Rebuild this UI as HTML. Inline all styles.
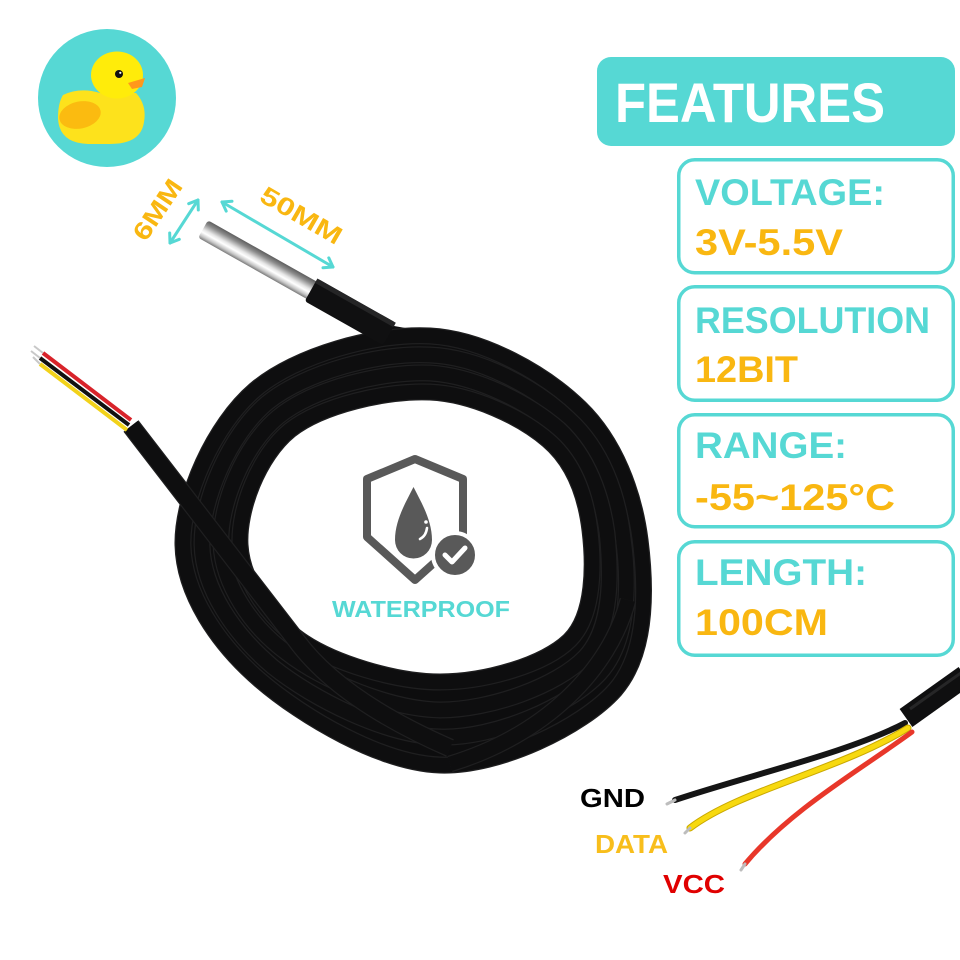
<!DOCTYPE html>
<html>
<head>
<meta charset="utf-8">
<style>
  html,body{margin:0;padding:0;background:#fff;}
  svg{display:block;}
  text{font-family:"Liberation Sans",Arial,sans-serif;font-weight:bold;}
</style>
</head>
<body>
<svg width="960" height="960" viewBox="0 0 960 960" xmlns="http://www.w3.org/2000/svg">
  <defs>
    <linearGradient id="tube" x1="0" y1="0" x2="0" y2="1">
      <stop offset="0" stop-color="#5e5e5e"/>
      <stop offset="0.22" stop-color="#8c8c8c"/>
      <stop offset="0.5" stop-color="#e6e6e6"/>
      <stop offset="0.65" stop-color="#ffffff"/>
      <stop offset="0.85" stop-color="#c4c4c4"/>
      <stop offset="1" stop-color="#7a7a7a"/>
    </linearGradient>
  </defs>
  <rect width="960" height="960" fill="#ffffff"/>

  <!-- Duck logo -->
  <circle cx="107" cy="98" r="69" fill="#56d8d4"/>
  <path d="M63,95 Q80,87 100,93 L136,93 Q147,105 144,122 Q141,144 110,144 L88,144 Q59,143 58,118 Q58,103 63,95 Z" fill="#fde21c"/>
  <ellipse cx="117" cy="75" rx="26" ry="23.5" fill="#ffec0a"/>
  <ellipse cx="80" cy="115" rx="21" ry="13.5" fill="#fbbb10" transform="rotate(-12 80 115)"/>
  <polygon points="128,83 145,78 142,87 132,89" fill="#ff981c"/>
  <circle cx="119" cy="74" r="4" fill="#111"/>
  <circle cx="120.3" cy="72.8" r="1.1" fill="#fff"/>

  <!-- Dimension arrows -->
  <g stroke="#56d8d4" stroke-width="3" fill="none" stroke-linecap="round" stroke-linejoin="round">
    <line x1="170" y1="243" x2="198" y2="200"/>
    <polyline points="188.7,203.7 198,200 198.3,210"/>
    <polyline points="179.3,239.3 170,243 169.7,233"/>
    <line x1="222" y1="202" x2="333" y2="267"/>
    <polyline points="328.8,257.9 333,267 323,267.8"/>
    <polyline points="226.2,211.1 222,202 232,201.2"/>
  </g>
  <text x="158" y="210" transform="rotate(-56 158 210)" text-anchor="middle" dominant-baseline="central" font-size="25" fill="#f9b711" textLength="68" lengthAdjust="spacingAndGlyphs">6MM</text>
  <text x="301" y="216" transform="rotate(30 301 216)" text-anchor="middle" dominant-baseline="central" font-size="25" fill="#f9b711" textLength="90" lengthAdjust="spacingAndGlyphs">50MM</text>

  <!-- probe cable into coil -->
  <path d="M380,331 C400,336 415,338 432,339" stroke="#0e0e0f" stroke-width="16" fill="none" stroke-linecap="butt"/>

  <!-- Coil base fill -->
  <path fill="#0d0d0e" fill-rule="evenodd" d="M430,336 C484,339 545,374 580,408 C615,442 634,493 640,540 C646,587 648,652 615,690 C582,727 499,767 440,765 C381,763 303,717 260,680 C217,643 184,593 183,545 C182,497 214,425 255,390 C296,355 376,333 430,336 Z M430,392 C473,394 521,417 548,440 C575,463 586,497 590,530 C594,563 595,615 570,640 C545,665 485,682 440,682 C395,682 333,663 300,640 C267,617 242,580 240,545 C238,510 258,456 290,430 C322,405 387,390 430,392 Z"/>

  <!-- Strands -->
  <g fill="none">
    <path stroke="#1f1f20" stroke-width="17" d="M430,336 C484,339 545,374 580,408 C615,442 634,493 640,540 C646,587 648,652 615,690 C582,727 499,767 440,765 C381,763 303,717 260,680 C217,643 184,593 183,545 C182,497 214,425 255,390 C296,355 376,333 430,336 Z"/>
    <path stroke="#0e0e0f" stroke-width="14.5" d="M430,336 C484,339 545,374 580,408 C615,442 634,493 640,540 C646,587 648,652 615,690 C582,727 499,767 440,765 C381,763 303,717 260,680 C217,643 184,593 183,545 C182,497 214,425 255,390 C296,355 376,333 430,336 Z"/>

    <path stroke="#1f1f20" stroke-width="17" d="M430,355 C480,357 537,388 569,419 C602,449 618,494 623,537 C629,579 630,640 600,673 C570,706 494,739 440,737 C386,736 313,699 273,667 C234,634 203,589 202,545 C201,501 229,435 267,403 C305,372 380,352 430,355 Z"/>
    <path stroke="#0e0e0f" stroke-width="14.5" d="M430,355 C480,357 537,388 569,419 C602,449 618,494 623,537 C629,579 630,640 600,673 C570,706 494,739 440,737 C386,736 313,699 273,667 C234,634 203,589 202,545 C201,501 229,435 267,403 C305,372 380,352 430,355 Z"/>

    <path stroke="#1f1f20" stroke-width="17" d="M430,373 C477,376 529,403 559,429 C588,456 602,496 607,533 C611,571 613,627 585,657 C557,686 490,710 440,710 C390,709 323,681 287,653 C250,626 223,584 221,545 C219,506 243,446 278,417 C313,388 383,371 430,373 Z"/>
    <path stroke="#0e0e0f" stroke-width="14.5" d="M430,373 C477,376 529,403 559,429 C588,456 602,496 607,533 C611,571 613,627 585,657 C557,686 490,710 440,710 C390,709 323,681 287,653 C250,626 223,584 221,545 C219,506 243,446 278,417 C313,388 383,371 430,373 Z"/>

    <path stroke="#1f1f20" stroke-width="17" d="M430,392 C473,394 521,417 548,440 C575,463 586,497 590,530 C594,563 595,615 570,640 C545,665 485,682 440,682 C395,682 333,663 300,640 C267,617 242,580 240,545 C238,510 258,456 290,430 C322,405 387,390 430,392 Z"/>
    <path stroke="#0e0e0f" stroke-width="14.5" d="M430,392 C473,394 521,417 548,440 C575,463 586,497 590,530 C594,563 595,615 570,640 C545,665 485,682 440,682 C395,682 333,663 300,640 C267,617 242,580 240,545 C238,510 258,456 290,430 C322,405 387,390 430,392 Z"/>

    <!-- bottom-right crossing strand -->
    <path stroke="#1f1f20" stroke-width="17" d="M628,600 C610,670 545,735 450,764"/>
    <path stroke="#0e0e0f" stroke-width="14.5" d="M628,600 C610,670 545,735 450,764"/>

    <!-- left jacket diagonal -->
    <path stroke="#1f1f20" stroke-width="19" d="M131,426 L296,640 Q340,700 450,748"/>
    <path stroke="#0e0e0f" stroke-width="16.5" d="M131,426 L296,640 Q340,700 450,748"/>
  </g>

  <!-- left wire ends -->
  <g stroke-linecap="butt" fill="none">
    <line x1="43" y1="353" x2="131" y2="420" stroke="#d8232a" stroke-width="4"/>
    <line x1="40" y1="358" x2="129" y2="425" stroke="#111" stroke-width="4"/>
    <line x1="40" y1="364" x2="127" y2="430" stroke="#f2d21a" stroke-width="4"/>
    <line x1="34" y1="346" x2="43" y2="353" stroke="#c8c8c8" stroke-width="2"/>
    <line x1="31" y1="351" x2="40" y2="358" stroke="#c8c8c8" stroke-width="2"/>
    <line x1="33" y1="357" x2="40" y2="364" stroke="#c8c8c8" stroke-width="2"/>
  </g>

  <!-- probe -->
  <g transform="translate(203 229) rotate(29.4)">
    <rect x="0" y="-10" width="128" height="20" rx="3" fill="url(#tube)"/>
    <rect x="124" y="-13" width="90" height="26" rx="3" fill="#101011"/>
    <rect x="124" y="-13" width="90" height="5" fill="#252526"/>
  </g>

  <!-- Waterproof icon -->
  <path d="M415,459 L367,479 L367,537 L415,580 L463,537 L463,479 Z" fill="none" stroke="#595959" stroke-width="8" stroke-linejoin="round"/>
  <path d="M413.5,487 C406,502 395,520 395,540 A18.5,18.5 0 0 0 432,540 C432,520 421,502 413.5,487 Z" fill="#595959"/>
  <circle cx="426" cy="522" r="1.8" fill="#fff"/>
  <path d="M427,528 Q426,536 420,539" stroke="#fff" stroke-width="2.6" fill="none" stroke-linecap="round"/>
  <circle cx="455" cy="555" r="22" fill="#595959" stroke="#fff" stroke-width="4"/>
  <path d="M445,555 L452,562 L465,548" stroke="#fff" stroke-width="5" fill="none" stroke-linecap="round" stroke-linejoin="round"/>
  <text x="332" y="617" font-size="23" fill="#56d8d4" textLength="178" lengthAdjust="spacingAndGlyphs">WATERPROOF</text>

  <!-- Features header -->
  <rect x="597" y="57" width="358" height="89" rx="14" fill="#56d8d4"/>
  <text x="615" y="122" font-size="56" fill="#ffffff" textLength="270" lengthAdjust="spacingAndGlyphs">FEATURES</text>

  <!-- Feature boxes -->
  <g fill="#fff" stroke="#56d8d4" stroke-width="3.5">
    <rect x="678.75" y="159.75" width="274.5" height="113" rx="16"/>
    <rect x="678.75" y="286.75" width="274.5" height="113.5" rx="16"/>
    <rect x="678.75" y="414.75" width="274.5" height="112" rx="16"/>
    <rect x="678.75" y="541.75" width="274.5" height="113.5" rx="16"/>
  </g>
  <g font-size="37">
    <text x="695" y="205" fill="#56d8d4" textLength="190" lengthAdjust="spacingAndGlyphs">VOLTAGE:</text>
    <text x="695" y="255" fill="#f9b711" textLength="148" lengthAdjust="spacingAndGlyphs">3V-5.5V</text>
    <text x="695" y="333" fill="#56d8d4" textLength="235" lengthAdjust="spacingAndGlyphs">RESOLUTION</text>
    <text x="695" y="382" fill="#f9b711" textLength="103" lengthAdjust="spacingAndGlyphs">12BIT</text>
    <text x="695" y="458" fill="#56d8d4" textLength="152" lengthAdjust="spacingAndGlyphs">RANGE:</text>
    <text x="695" y="510" fill="#f9b711" textLength="200" lengthAdjust="spacingAndGlyphs">-55~125°C</text>
    <text x="695" y="585" fill="#56d8d4" textLength="172" lengthAdjust="spacingAndGlyphs">LENGTH:</text>
    <text x="695" y="635" fill="#f9b711" textLength="133" lengthAdjust="spacingAndGlyphs">100CM</text>
  </g>

  <!-- bottom-right wire end -->
  <g fill="none" stroke-linecap="round">
    <path d="M905,723 C850,752 750,775 675,800" stroke="#151515" stroke-width="6"/>
    <path d="M908,728 C840,770 740,790 690,828" stroke="#c9a800" stroke-width="7"/>
    <path d="M908,728 C840,770 740,790 690,828" stroke="#f7d90f" stroke-width="5"/>
    <path d="M912,732 C860,770 790,810 745,864" stroke="#e8372a" stroke-width="5"/>
    <line x1="675" y1="800" x2="667" y2="804" stroke="#bdbdbd" stroke-width="3"/>
    <line x1="690" y1="828" x2="685" y2="833" stroke="#bdbdbd" stroke-width="3"/>
    <line x1="745" y1="864" x2="741" y2="870" stroke="#bdbdbd" stroke-width="3"/>
  </g>
  <line x1="965" y1="676" x2="906" y2="718" stroke="#0f0f10" stroke-width="22"/>
  <line x1="965" y1="670" x2="910" y2="709" stroke="#262627" stroke-width="3"/>

  <text x="580" y="807" font-size="26" fill="#000" textLength="65" lengthAdjust="spacingAndGlyphs">GND</text>
  <text x="595" y="853" font-size="26" fill="#f8be1c" textLength="73" lengthAdjust="spacingAndGlyphs">DATA</text>
  <text x="663" y="893" font-size="26" fill="#e00000" textLength="62" lengthAdjust="spacingAndGlyphs">VCC</text>
</svg>
</body>
</html>
